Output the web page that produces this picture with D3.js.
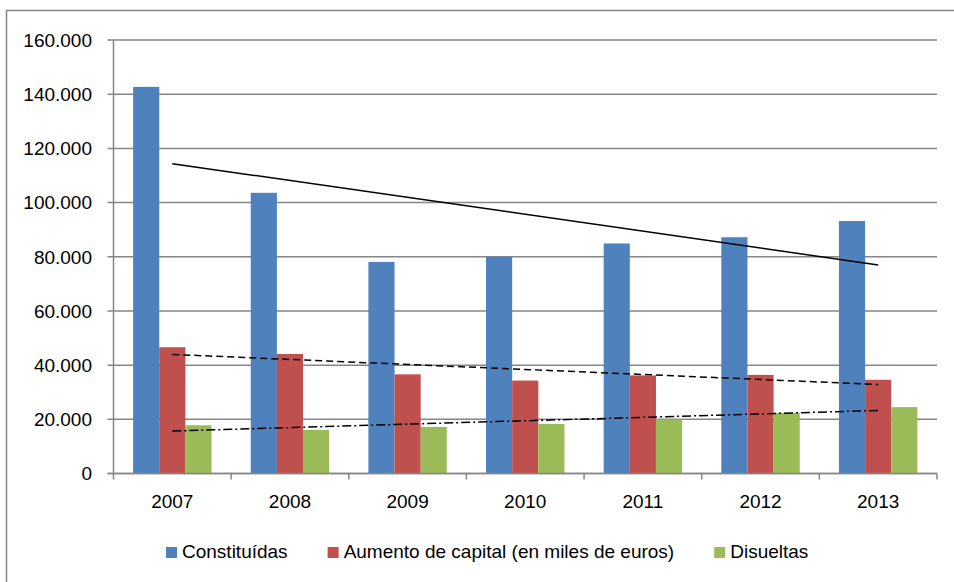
<!DOCTYPE html>
<html>
<head>
<meta charset="utf-8">
<script src="https://cdn.jsdelivr.net/npm/d3@7"></script>
<style>
  body { margin: 0; background: #fff; }
  svg text { font-family: "Liberation Sans", Arial, sans-serif; fill: #000; }
</style>
</head>
<body>
<svg id="chart" width="954" height="582"></svg>
<script>
// data
const years = ["2007", "2008", "2009", "2010", "2011", "2012", "2013"];
const constituidas = [142700, 103600, 78100, 80000, 84900, 87200, 93200];
const aumento = [46600, 44100, 36600, 34300, 36200, 36400, 34600];
const disueltas = [17800, 16100, 17200, 18300, 20000, 22400, 24500];
const yTicks = [0, 20000, 40000, 60000, 80000, 100000, 120000, 140000, 160000];
const seriesNames = ["Constituídas", "Aumento de capital (en miles de euros)", "Disueltas"];

const colors = ["#4F81BD", "#C0504D", "#9BBB59"];
const trendDash = [null, "7,4", "9,3,2,3"];
const gridColor = "#868686";

const plot = {left: 113.5, right: 937, top: 40, bottom: 473.5};

const svg = d3.select("#chart");

// outer frame
svg.append("rect")
    .attr("x", 6.5).attr("y", 10.5)
    .attr("width", 960).attr("height", 600)
    .attr("fill", "none")
    .attr("stroke", gridColor)
    .attr("stroke-width", 1.5);

const x = d3.scaleBand()
    .domain(years)
    .range([plot.left, plot.right]);

// 3 bars + 150% gap width
const barW = x.bandwidth() / 4.5;
const x1 = d3.scaleBand()
    .domain([0, 1, 2])
    .range([barW * 0.75, barW * 3.75]);

const y = d3.scaleLinear()
    .domain([0, 160000])
    .range([plot.bottom, plot.top]);

const fmt = d3.formatLocale({decimal: ",", thousands: ".", grouping: [3], currency: ["", "€"]}).format(",.0f");

// gridlines
svg.append("g")
    .selectAll("line")
    .data(yTicks)
    .join("line")
    .attr("x1", plot.left - 6)
    .attr("x2", plot.right)
    .attr("y1", d => y(d))
    .attr("y2", d => y(d))
    .attr("stroke", gridColor)
    .attr("stroke-width", 1.5);

// y labels
svg.append("g")
    .selectAll("text")
    .data(yTicks)
    .join("text")
    .attr("x", 92)
    .attr("y", d => y(d))
    .attr("dy", "0.36em")
    .attr("text-anchor", "end")
    .style("font-size", "19px")
    .text(d => fmt(d));

// bars
const series = [constituidas, aumento, disueltas];
const groups = svg.append("g")
    .selectAll("g")
    .data(years)
    .join("g")
    .attr("transform", d => "translate(" + x(d) + ",0)");

groups.selectAll("rect")
    .data((d, i) => series.map((s, k) => ({k: k, v: s[i]})))
    .join("rect")
    .attr("x", d => x1(d.k))
    .attr("width", x1.bandwidth())
    .attr("y", d => y(d.v))
    .attr("height", d => y(0) - y(d.v))
    .attr("fill", d => colors[d.k]);

// axes lines
svg.append("line")
    .attr("x1", plot.left).attr("x2", plot.left)
    .attr("y1", plot.top).attr("y2", plot.bottom)
    .attr("stroke", gridColor).attr("stroke-width", 1.5);

svg.append("line")
    .attr("x1", plot.left - 6).attr("x2", plot.right)
    .attr("y1", plot.bottom).attr("y2", plot.bottom)
    .attr("stroke", gridColor).attr("stroke-width", 1.5);

// x ticks at category boundaries
const xTickPos = years.map(d => x(d)).concat([plot.right]);
svg.append("g")
    .selectAll("line")
    .data(xTickPos)
    .join("line")
    .attr("x1", d => d).attr("x2", d => d)
    .attr("y1", plot.bottom).attr("y2", plot.bottom + 6)
    .attr("stroke", gridColor).attr("stroke-width", 1.5);

svg.append("g")
    .selectAll("text")
    .data(years)
    .join("text")
    .attr("x", d => x(d) + x.bandwidth() / 2)
    .attr("y", 508)
    .attr("text-anchor", "middle")
    .style("font-size", "19px")
    .text(d => d);

// linear trendlines
function linFit(vals) {
    const n = vals.length;
    const mx = d3.mean(vals, (v, i) => i);
    const my = d3.mean(vals);
    const sxy = d3.sum(vals, (v, i) => (i - mx) * (v - my));
    const sxx = d3.sum(vals, (v, i) => (i - mx) * (i - mx));
    const b = sxy / sxx;
    const a = my - b * mx;
    return [[0, a], [n - 1, a + b * (n - 1)]];
}

const line = d3.line()
    .x(d => x(years[d[0]]) + x.bandwidth() / 2)
    .y(d => y(d[1]));

series.forEach((s, k) => {
    svg.append("path")
        .attr("d", line(linFit(s)))
        .attr("fill", "none")
        .attr("stroke", "#000")
        .attr("stroke-width", 1.5)
        .attr("stroke-dasharray", trendDash[k]);
});

// legend
const legend = svg.append("g").attr("transform", "translate(166,0)");
let lx = 0;
seriesNames.forEach((name, k) => {
    legend.append("rect")
        .attr("x", lx).attr("y", 547)
        .attr("width", 11).attr("height", 11)
        .attr("fill", colors[k]);
    const t = legend.append("text")
        .attr("x", lx + 16)
        .attr("y", 557.5)
        .style("font-size", "19px")
        .text(name);
    lx += 16 + t.node().getComputedTextLength() + 40;
});
</script>
</body>
</html>
